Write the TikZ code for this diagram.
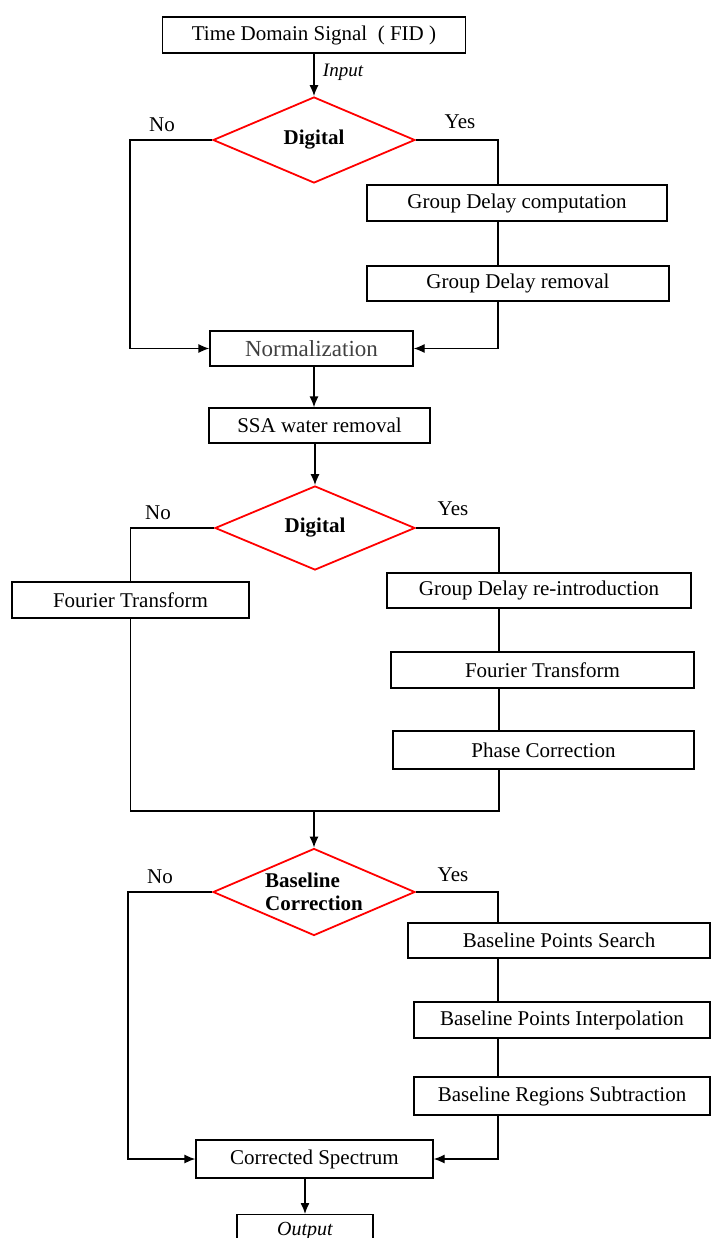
\documentclass[tikz,border=0pt]{standalone}
\usepackage{fontspec}
\setmainfont{Liberation Serif}
\usetikzlibrary{shapes.geometric,arrows.meta}
\begin{document}
\begin{tikzpicture}[x=1pt,y=-1pt,
  box/.style={draw, line width=1.3pt, rectangle, inner sep=0pt, font=\fontsize{21}{25}\selectfont},
  dec/.style={draw=red, line width=1.8pt, diamond, inner sep=0pt, font=\bfseries\fontsize{21}{23}\selectfont},
  conn/.style={line width=1.3pt},
  arr/.style={conn, -{Latex[length=11pt,width=9pt]}},
  lbl/.style={inner sep=0pt, font=\fontsize{21}{25}\selectfont}]
\useasboundingbox (0,0) rectangle (711,1238);
\clip (0,0) rectangle (711,1238);
% nodes
\node[box, minimum width=303pt, minimum height=36pt] (tds) at (314,35) {Time Domain Signal\ \ (\ FID\ )};
\node[dec, minimum width=202pt, minimum height=86pt] (d1) at (314,140) {Digital};
\node[box, minimum width=300pt, minimum height=36pt] (gdc) at (517,203) {Group Delay computation};
\node[box, minimum width=302pt, minimum height=35pt] (gdr) at (518,283.5) {Group Delay removal};
\node[box, minimum width=203pt, minimum height=35pt, text=black!75] (norm) at (311.5,348.5) {\fontsize{23}{26}\selectfont Normalization};
\node[box, minimum width=221pt, minimum height=35pt] (ssa) at (319.5,425.5) {SSA water removal};
\node[dec, minimum width=200pt, minimum height=84pt] (d2) at (315,528) {Digital};
\node[box, minimum width=237pt, minimum height=36pt] (ftl) at (130.5,600) {Fourier Transform};
\node[box, minimum width=304pt, minimum height=35pt] (gdri) at (539,590.5) {Group Delay re-introduction};
\node[box, minimum width=303pt, minimum height=36pt] (ftr) at (542.5,670) {Fourier Transform};
\node[box, minimum width=301pt, minimum height=38pt] (pc) at (543.5,750) {Phase Correction};
\node[dec, minimum width=202pt, minimum height=87pt,
  label={[align=left, inner sep=0pt, font=\bfseries\fontsize{21}{23}\selectfont]center:Baseline\\Correction}] (d3) at (314,892) {};
\node[box, minimum width=302pt, minimum height=35pt] (bps) at (559,940.5) {Baseline Points Search};
\node[box, minimum width=296pt, minimum height=36pt] (bpi) at (562,1020) {Baseline Points Interpolation};
\node[box, minimum width=296pt, minimum height=38pt] (brs) at (562,1096) {Baseline Regions Subtraction};
\node[box, minimum width=237pt, minimum height=38pt] (cs) at (314.5,1159) {Corrected Spectrum};
\node[box, minimum width=136pt, minimum height=36pt, font=\itshape\fontsize{20}{24}\selectfont, anchor=north] (out) at (305,1214) {\raisebox{8pt}{Output}};
% labels
\node[lbl, font=\itshape\fontsize{19}{23}\selectfont] (inp) at (343,72) {Input};
\node[lbl] (no1) at (162,125) {No};
\node[lbl] (yes1) at (460,122) {Yes};
\node[lbl] (no2) at (158,513) {No};
\node[lbl] (yes2) at (453,509) {Yes};
\node[lbl] (no3) at (160,877) {No};
\node[lbl] (yes3) at (453,875) {Yes};
% coordinates
\coordinate (l1) at (130,140);
\coordinate (r1) at (498,140);
\coordinate (r2) at (499,528);
\coordinate (m2) at (314,811);
\coordinate (l3) at (128,892);
\coordinate (r3) at (498,892);
% connectors
\draw[arr] (tds.south) -- (d1.north);
\draw[conn] (d1.east) -- (r1) -- (r1 |- gdc.north);
\draw[conn] (r1 |- gdc.south) -- (r1 |- gdr.north);
\draw[arr] (r1 |- gdr.south) |- (norm.east);
\draw[arr] (d1.west) -- (l1) |- (norm.west);
\draw[arr] (norm.south -| d1.north) -- (ssa.north -| d1.north);
\draw[arr] (ssa.south -| d2.north) -- (d2.north);
\draw[conn] (d2.west) -| (ftl.north);
\draw[conn] (d2.east) -- (r2) -- (r2 |- gdri.north);
\draw[conn] (r2 |- gdri.south) -- (r2 |- ftr.north);
\draw[conn] (r2 |- ftr.south) -- (r2 |- pc.north);
\draw[conn] (ftl.south) |- (m2) -| (r2 |- pc.south);
\draw[arr] (m2) -- (d3.north);
\draw[arr] (d3.west) -- (l3) |- (cs.west);
\draw[conn] (d3.east) -- (r3) -- (r3 |- bps.north);
\draw[conn] (r3 |- bps.south) -- (r3 |- bpi.north);
\draw[conn] (r3 |- bpi.south) -- (r3 |- brs.north);
\draw[arr] (r3 |- brs.south) |- (cs.east);
\draw[arr] (cs.south -| out.north) -- (out.north);
\end{tikzpicture}
\end{document}
